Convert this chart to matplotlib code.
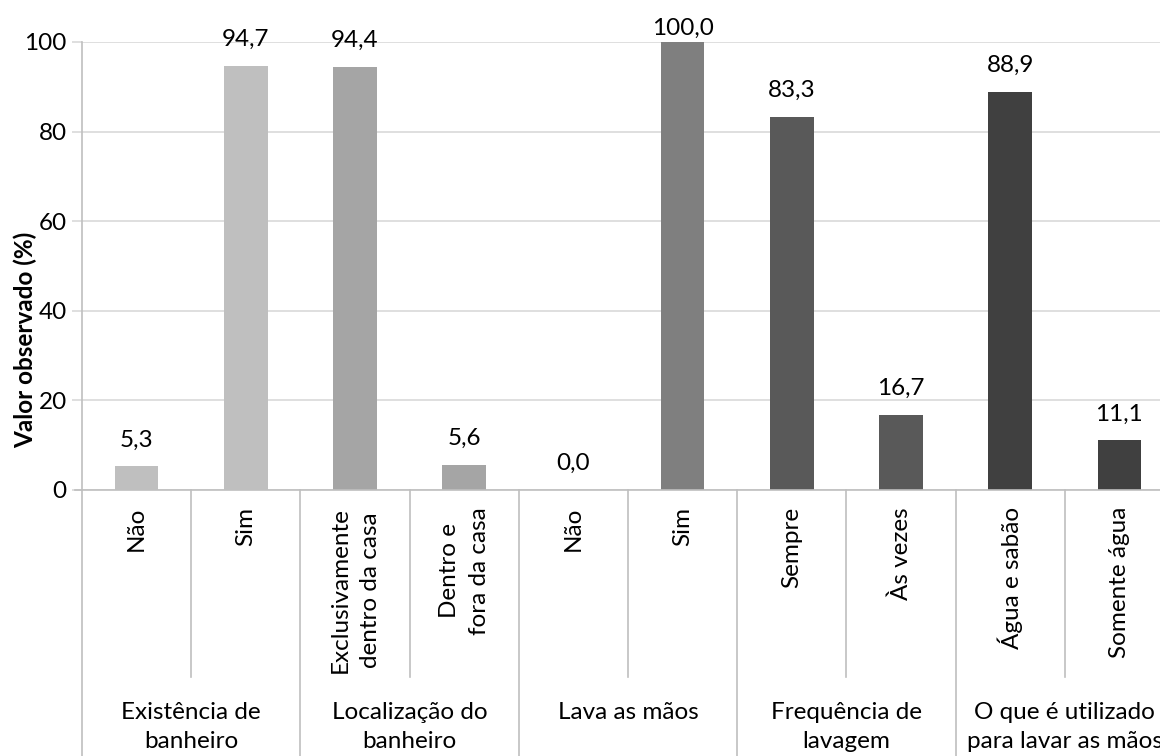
import numpy as np
import matplotlib.pyplot as plt

plt.rcParams['font.family'] = ['Lato', 'DejaVu Sans']

# categories and values
groups = ['Existência de\nbanheiro', 'Localização do\nbanheiro', 'Lava as mãos',
          'Frequência de\nlavagem', 'O que é utilizado\npara lavar as mãos']
items = ['Não', 'Sim',
         'Exclusivamente\ndentro da casa', 'Dentro e\nfora da casa',
         'Não', 'Sim',
         'Sempre', 'Às vezes',
         'Água e sabão', 'Somente água']
values = [5.3, 94.7, 94.4, 5.6, 0.0, 100.0, 83.3, 16.7, 88.9, 11.1]
group_size = [2, 2, 2, 2, 2]
group_colors = ['#BFBFBF', '#A5A5A5', '#7F7F7F', '#595959', '#404040']

W, H = 1160, 756
fig = plt.figure(figsize=(W / 100, H / 100), dpi=100)
# plot area in pixels: x 82 -> 1174 (runs past the right edge), y 42 -> 490
px_left, px_right, px_top, px_bot = 82, 1174, 42, 490
ax = fig.add_axes([px_left / W, 1 - px_bot / H, (px_right - px_left) / W, (px_bot - px_top) / H])

axis_col = '#BFBFBF'
grid_col = '#D9D9D9'
fs = 17.5

colors = []
for g, n in enumerate(group_size):
    colors += [group_colors[g]] * n

x = np.arange(len(values))
ax.bar(x, values, width=0.40, color=colors, zorder=3)

ax.set_xlim(-0.5, len(values) - 0.5)
ax.set_ylim(0, 100)
ax.set_yticks([0, 20, 40, 60, 80, 100])
ax.yaxis.grid(True, color=grid_col, linewidth=1.2, zorder=0)
ax.tick_params(axis='y', length=7, width=1.2, color=grid_col, labelsize=fs, pad=4)
ax.set_xticks([])
for s in ['top', 'right']:
    ax.spines[s].set_visible(False)
ax.spines['bottom'].set_visible(False)
ax.spines['left'].set_color(axis_col)
ax.spines['left'].set_linewidth(1.2)

# data labels
for xi, v in zip(x, values):
    off = 19 if v < 98 else 10
    ax.annotate(f'{v:.1f}'.replace('.', ','), (xi, v), xytext=(0, off),
                textcoords='offset points', ha='center', va='center', fontsize=fs)

# category axis (two levels)
tr = ax.get_xaxis_transform()
ph = px_bot - px_top
ax.plot([-0.5 - 7 / 109.2, len(values) - 0.5], [0, 0], color=axis_col, lw=1.2,
        transform=tr, clip_on=False, zorder=4)
ax.plot([-0.5, -0.5], [0, -0.62], color=axis_col, lw=1.2, transform=tr, clip_on=False)

for xi, lab in zip(x, items):
    ax.text(xi, -17 / ph, lab, rotation=90, ha='center', va='top',
            multialignment='center', fontsize=fs, transform=tr, linespacing=1.55)

start = 0
for g, n in enumerate(group_size):
    end = start + n
    for k in range(start + 1, end):
        ax.plot([k - 0.5, k - 0.5], [0, -187 / ph], color=axis_col, lw=1.2,
                transform=tr, clip_on=False)
    ax.plot([end - 0.5, end - 0.5], [0, -0.62], color=axis_col, lw=1.2,
            transform=tr, clip_on=False)
    ax.text((start + end - 1) / 2, -212 / ph, groups[g], ha='center', va='top',
            multialignment='center', fontsize=fs, transform=tr, linespacing=1.45)
    start = end

fig.text(25 / W, 1 - 340 / H, 'Valor observado (%)', rotation=90, ha='center',
         va='center', fontsize=fs, fontweight='bold')

fig.savefig('out.png', dpi=100)
